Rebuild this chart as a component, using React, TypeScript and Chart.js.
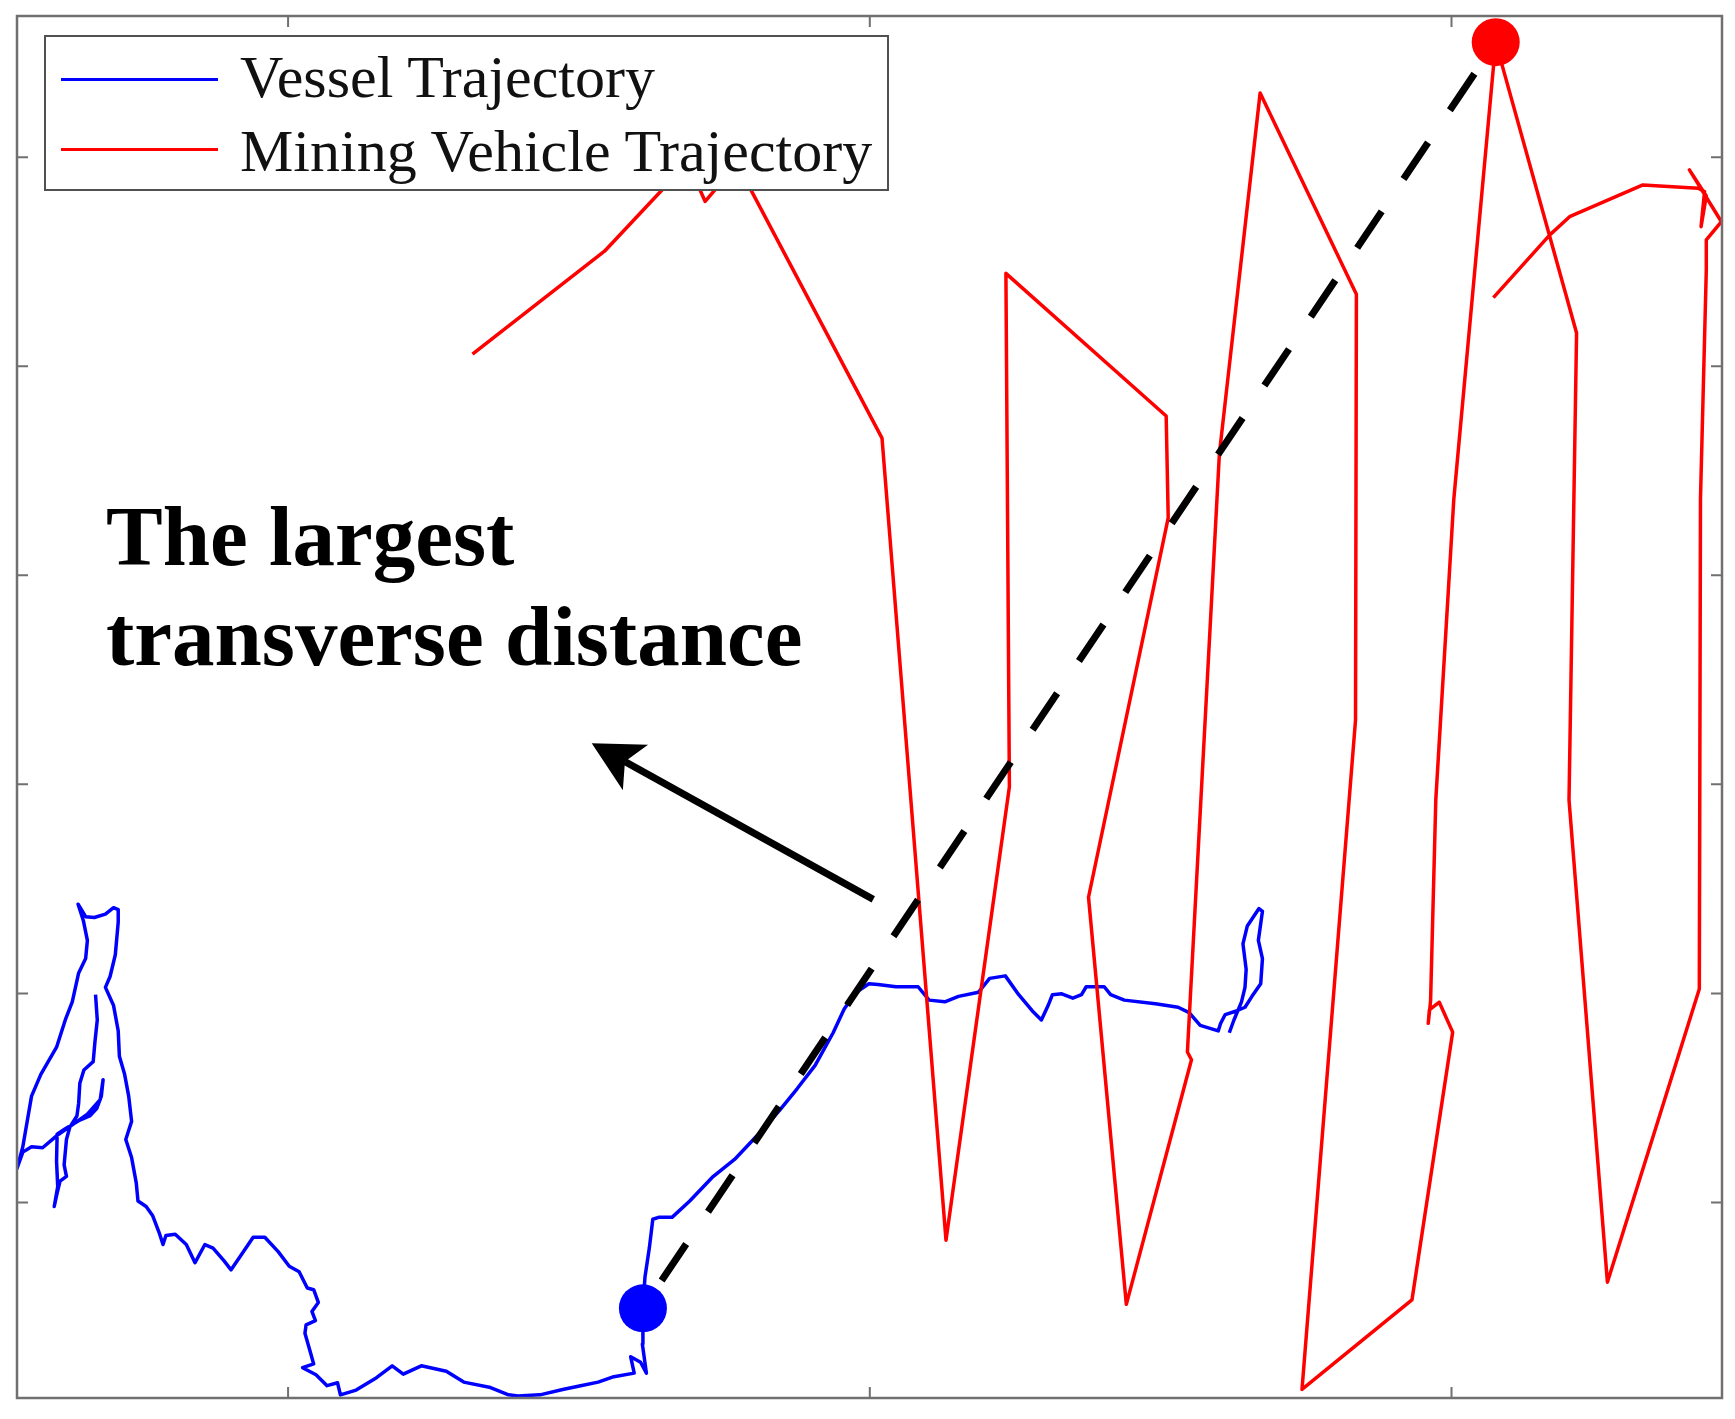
import { useEffect, useRef } from "react";
import { Chart, registerables } from "chart.js";

Chart.register(...registerables);

type Pt = [number, number];

// Axis limits (arbitrary plan units; the reference shows no tick labels)
const X_MIN = -46.6;
const X_MAX = 246.5;
const Y_MIN = -93.5;
const Y_MAX = 567.5;
const xTickValues = [0, 100, 200];
const yTickValues = [0, 100, 200, 300, 400, 500];

// ---------------- Vessel trajectory (blue) ----------------
const vesselWestLoop: Pt[] = [
  [-33.1, 99.4], [-32.8, 87.3], [-33.2, 76.9], [-33.5, 67.4], [-35.1, 63.4], [-35.8, 57.0],
  [-36.0, 47.5], [-36.3, 41.4], [-37.5, 36.2], [-38.1, 30.1], [-38.5, 18.0], [-38.1, 12.5],
  [-39.2, 10.2], [-39.8, 3.3], [-40.2, -1.9], [-39.6, 7.6], [-39.8, 19.7], [-39.7, 32.7],
  [-38.3, 35.3], [-36.0, 39.1], [-34.1, 41.4], [-32.9, 44.9], [-32.1, 50.9], [-31.8, 58.7],
  [-32.3, 49.2], [-34.5, 42.3], [-37.1, 37.1], [-39.8, 31.9], [-42.2, 26.2], [-44.1, 26.7],
  [-45.6, 24.1], [-46.6, 16.3],
];
const vesselNorthLobe: Pt[] = [
  [-45.6, 26.7], [-44.1, 50.9], [-42.5, 61.3], [-39.8, 74.3], [-38.3, 87.3], [-37.1, 96.0],
  [-36.0, 109.8], [-34.8, 116.7], [-34.5, 125.4], [-35.2, 134.9], [-36.1, 142.7], [-34.8, 136.7],
  [-33.3, 136.3], [-31.4, 137.9], [-30.0, 141.0], [-29.2, 140.1], [-29.2, 134.1], [-29.7, 118.5],
  [-30.6, 108.1], [-31.4, 102.9], [-30.0, 94.2], [-29.2, 82.1], [-29.0, 70.0], [-28.1, 61.3],
  [-27.4, 50.9], [-26.9, 38.8], [-27.9, 30.1], [-26.9, 21.5], [-26.1, 9.4], [-25.8, 0.7],
];
const vesselSouthReach: Pt[] = [
  [-24.4, -1.9], [-23.3, -6.2], [-22.1, -14.9], [-21.5, -20.1], [-21.0, -15.8], [-19.4, -15.2],
  [-17.5, -20.1], [-16.0, -28.8], [-14.3, -20.1], [-12.9, -21.8], [-11.0, -27.9], [-9.8, -32.2],
  [-8.3, -26.1], [-6.0, -16.6], [-4.0, -16.6], [-1.7, -23.5], [0.2, -30.5], [1.9, -33.1],
  [3.3, -40.9], [4.4, -41.7], [5.2, -47.8], [4.1, -52.1], [4.7, -56.5], [3.1, -58.5],
  [2.9, -62.5], [3.7, -70.3], [4.4, -77.2], [2.5, -79.0], [4.8, -82.4], [6.7, -87.6],
  [8.5, -86.2], [9.0, -92.0], [11.7, -89.7], [15.2, -83.8], [17.9, -78.1], [19.8, -82.1],
  [22.9, -78.1], [27.2, -80.7], [30.2, -85.9], [34.8, -88.5], [37.9, -92.0], [39.5, -92.5],
  [43.3, -92.0], [47.2, -89.4], [50.3, -87.6], [53.3, -85.9], [56.0, -83.3], [59.5, -81.6],
  [58.9, -73.8], [60.6, -76.4], [61.6, -81.6], [60.9, -67.7], [61.0, -50.6],
];
const vesselEastLeg: Pt[] = [
  [61.35, -35.7], [62.1, -21.8], [62.7, -8.0], [63.7, -7.1], [66.0, -7.1], [69.05, 0.7],
  [72.9, 12.0], [76.75, 20.6], [80.6, 31.9], [84.45, 44.0], [87.5, 54.4], [90.6, 65.6],
  [93.7, 81.2], [95.6, 92.5], [97.55, 100.3], [99.85, 104.6], [101.4, 104.3], [104.5, 103.2],
  [108.3, 103.2], [110.2, 96.8], [112.9, 96.0], [115.25, 98.6], [118.7, 100.6], [120.6, 107.2],
  [123.3, 108.4], [125.6, 99.4], [127.95, 91.6], [129.5, 87.3], [130.65, 94.2], [131.4, 99.4],
  [133.0, 99.8], [134.9, 97.7], [136.4, 99.4], [137.2, 103.2], [140.3, 103.2], [141.4, 99.4],
  [143.75, 96.8], [149.1, 95.1], [153.0, 93.4], [154.9, 90.8], [156.8, 84.7], [159.9, 82.1],
  [160.3, 85.6], [161.1, 89.9], [163.0, 91.6], [164.5, 93.4], [165.7, 98.6], [167.2, 104.6],
  [167.5, 116.7], [166.8, 125.4], [167.5, 139.3], [166.9, 140.6], [164.9, 132.3], [164.15, 123.7],
  [164.7, 111.5], [164.5, 102.9], [163.9, 96.0], [162.6, 87.3], [161.8, 81.2],
];

// ---------------- Mining vehicle trajectory (red) ----------------
const vehicleWestSweep: Pt[] = [
  [31.7, 405.8], [54.4, 455.0], [64.6, 485.2], [68.4, 499.5], [71.7, 478.8], [77.2, 496.8],
  [102.1, 365.6], [113.1, -18.0], [124.0, 198.9], [123.4, 444.4], [150.95, 376.2], [151.3, 327.5],
  [137.6, 146.0], [144.1, -48.7], [155.3, 68.3], [154.6, 72.0], [160.1, 358.2], [167.1, 530.7],
];
const vehicleCentralSweep: Pt[] = [
  [183.65, 434.4], [183.5, 230.7], [174.3, -89.4], [193.2, -46.6], [200.2, 81.5], [197.9, 95.8],
  [196.2, 92.1], [196.0, 85.7], [196.4, 96.3], [197.3, 192.6], [200.4, 336.5], [207.6, 555.0],
];
const vehicleEastSweep: Pt[] = [
  [221.5, 415.9], [220.2, 192.6], [226.8, -38.1], [242.6, 102.1], [242.8, 336.5], [243.8, 446.0],
  [243.8, 460.4], [246.4, 469.1], [240.9, 493.9], [243.8, 481.4], [242.9, 466.7], [243.5, 483.5],
  [242.4, 485.1], [232.9, 486.7], [220.3, 471.5], [216.9, 462.8], [207.2, 432.8],
];

// Markers, connecting distance and annotation arrow
const vesselMarker: Pt = [61.0, -50.6];
const vehicleMarker: Pt = [207.6, 555.0];
const arrowTail: Pt = [100.6, 145.0];
const arrowTip: Pt = [52.2, 219.7];

const legendLabels = ["Vessel Trajectory", "Mining Vehicle Trajectory"];
const annotationLines = ["The largest", "transverse distance"];

const toXY = (pts: Pt[]) => pts.map(([x, y]) => ({ x, y }));

const framePlugin = {
  id: "matlabFrame",
  afterDatasetsDraw(chart: any) {
    const { ctx, chartArea: a, scales } = chart;
    const xs = scales.x;
    const ys = scales.y;
    ctx.save();

    // annotation arrow
    const tx = xs.getPixelForValue(arrowTail[0]);
    const ty = ys.getPixelForValue(arrowTail[1]);
    const hx = xs.getPixelForValue(arrowTip[0]);
    const hy = ys.getPixelForValue(arrowTip[1]);
    const len = Math.hypot(hx - tx, hy - ty);
    const ux = (hx - tx) / len;
    const uy = (hy - ty) / len;
    const nx = -uy;
    const ny = ux;
    const L = 50, W = 26, N = 38;
    ctx.strokeStyle = "#000";
    ctx.lineWidth = 7;
    ctx.lineCap = "butt";
    ctx.beginPath();
    ctx.moveTo(tx, ty);
    ctx.lineTo(hx - ux * N, hy - uy * N);
    ctx.stroke();
    ctx.fillStyle = "#000";
    ctx.beginPath();
    ctx.moveTo(hx, hy);
    ctx.lineTo(hx - ux * L + nx * W, hy - uy * L + ny * W);
    ctx.lineTo(hx - ux * N, hy - uy * N);
    ctx.lineTo(hx - ux * L - nx * W, hy - uy * L - ny * W);
    ctx.closePath();
    ctx.fill();

    // axes box
    ctx.strokeStyle = "#707070";
    ctx.lineWidth = 2.5;
    ctx.strokeRect(a.left, a.top, a.right - a.left, a.bottom - a.top);

    // inward ticks on all four sides
    const tl = 11;
    ctx.lineWidth = 2;
    ctx.beginPath();
    for (const v of xTickValues) {
      const px = xs.getPixelForValue(v);
      ctx.moveTo(px, a.bottom);
      ctx.lineTo(px, a.bottom - tl);
      ctx.moveTo(px, a.top);
      ctx.lineTo(px, a.top + tl);
    }
    for (const v of yTickValues) {
      const py = ys.getPixelForValue(v);
      ctx.moveTo(a.left, py);
      ctx.lineTo(a.left + tl, py);
      ctx.moveTo(a.right, py);
      ctx.lineTo(a.right - tl, py);
    }
    ctx.stroke();
    ctx.restore();
  },
};

export default function App() {
  const canvasRef = useRef<HTMLCanvasElement | null>(null);

  useEffect(() => {
    const canvas = canvasRef.current;
    if (!canvas) return;
    const vesselPath = [...vesselWestLoop, ...vesselNorthLobe, ...vesselSouthReach, ...vesselEastLeg];
    const vehiclePath = [...vehicleWestSweep, ...vehicleCentralSweep, ...vehicleEastSweep];
    const chart = new Chart(canvas, {
      type: "scatter",
      data: {
        datasets: [
          {
            label: "Mining vehicle position",
            data: toXY([vehicleMarker]),
            showLine: false,
            pointRadius: 24,
            pointBackgroundColor: "#ff0000",
            pointBorderColor: "#ff0000",
            pointBorderWidth: 0,
            clip: false,
          },
          {
            label: "Vessel position",
            data: toXY([vesselMarker]),
            showLine: false,
            pointRadius: 24,
            pointBackgroundColor: "#0000ff",
            pointBorderColor: "#0000ff",
            pointBorderWidth: 0,
            clip: false,
          },
          {
            label: "The largest transverse distance",
            data: toXY([vesselMarker, vehicleMarker]),
            showLine: true,
            borderColor: "#000000",
            borderWidth: 7,
            borderDash: [44, 39],
            borderDashOffset: 49.5,
            borderCapStyle: "butt",
            pointRadius: 0,
            clip: false,
          },
          {
            label: legendLabels[1],
            data: toXY(vehiclePath),
            showLine: true,
            borderColor: "#ff0000",
            borderWidth: 3.5,
            borderJoinStyle: "round",
            tension: 0,
            pointRadius: 0,
          },
          {
            label: legendLabels[0],
            data: toXY(vesselPath),
            showLine: true,
            borderColor: "#0000ff",
            borderWidth: 3.5,
            borderJoinStyle: "round",
            tension: 0,
            pointRadius: 0,
          },
        ],
      },
      options: {
        responsive: false,
        animation: false,
        devicePixelRatio: 1,
        events: [],
        layout: { autoPadding: false, padding: { left: 17, top: 16, right: 13, bottom: 21 } },
        scales: {
          x: { type: "linear", min: X_MIN, max: X_MAX, display: false },
          y: { type: "linear", min: Y_MIN, max: Y_MAX, display: false },
        },
        plugins: {
          legend: { display: false },
          tooltip: { enabled: false },
        },
      },
      plugins: [framePlugin],
    } as any);
    return () => chart.destroy();
  }, []);

  const serif = '"Liberation Serif", "Times New Roman", serif';

  return (
    <div style={{ position: "fixed", left: 0, top: 0, width: 1735, height: 1419, background: "#ffffff", overflow: "hidden" }}>
      <canvas
        ref={canvasRef}
        width={1735}
        height={1419}
        style={{ position: "absolute", left: 0, top: 0, width: 1735, height: 1419 }}
      />
      {/* Legend box */}
      <div
        style={{
          position: "absolute",
          left: 44,
          top: 35,
          width: 845,
          height: 156,
          boxSizing: "border-box",
          background: "#ffffff",
          border: "2px solid #505050",
        }}
      />
      <div style={{ position: "absolute", left: 61, top: 78, width: 157, height: 3, background: "#0000ff" }} />
      <div style={{ position: "absolute", left: 61, top: 148, width: 157, height: 3, background: "#ff0000" }} />
      <div
        style={{
          position: "absolute",
          left: 240,
          top: 46.7,
          fontFamily: serif,
          fontSize: 60,
          lineHeight: "60px",
          whiteSpace: "nowrap",
          color: "#111",
        }}
      >
        {legendLabels[0]}
      </div>
      <div
        style={{
          position: "absolute",
          left: 240,
          top: 121.2,
          fontFamily: serif,
          fontSize: 60,
          lineHeight: "60px",
          whiteSpace: "nowrap",
          color: "#111",
        }}
      >
        {legendLabels[1]}
      </div>
      {/* Annotation */}
      <div
        style={{
          position: "absolute",
          left: 106,
          top: 486,
          fontFamily: serif,
          fontWeight: "bold",
          fontSize: 85,
          lineHeight: "100px",
          whiteSpace: "nowrap",
          color: "#000",
        }}
      >
        <div>{annotationLines[0]}</div>
        <div>{annotationLines[1]}</div>
      </div>
    </div>
  );
}
